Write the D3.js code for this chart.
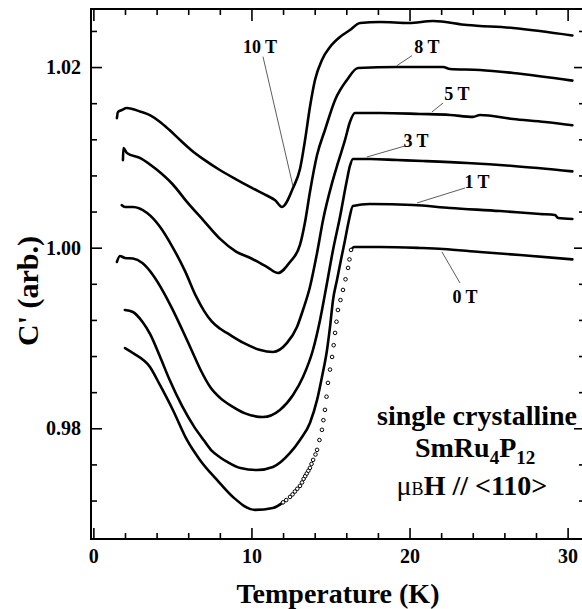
<!DOCTYPE html>
<html>
<head>
<meta charset="utf-8">
<script src="https://cdn.jsdelivr.net/npm/d3@7"></script>
<style>
  body { margin: 0; background: #fff; }
  svg text { font-family: "Liberation Serif", "Times New Roman", serif; font-weight: bold; }
</style>
</head>
<body>
<div id="chart"></div>
<script>
// field series: [temperature K, C' (arb.)]
const field10 = [[1.49,1.01435],[1.55,1.01502],[1.80,1.01525],[2.12,1.01547],[3.0,1.01505],[3.6,1.01465],[4.2,1.01395],[4.8,1.01305],[5.5,1.01190],[6.2,1.01080],[7.0,1.00975],[8.0,1.00860],[9.0,1.00760],[10.0,1.00665],[11.0,1.00575],[11.5,1.00525],[11.93,1.00451],[12.63,1.00661],[13.07,1.00871],[13.39,1.01192],[13.70,1.01558],[14.02,1.01857],[14.46,1.02079],[14.97,1.02222],[15.60,1.02333],[16.23,1.02410],[16.87,1.02488],[18.13,1.02499],[19.97,1.02488],[21.49,1.02510],[23.64,1.02466],[26.55,1.02433],[30.3,1.02350]];
const field8 = [[1.87,1.00970],[1.90,1.01104],[2.12,1.01049],[3.0,1.00990],[4.0,1.00865],[5.0,1.00705],[6.0,1.00490],[7.0,1.00295],[8.0,1.00100],[9.0,0.99960],[10.0,0.99880],[11.0,0.99785],[11.68,0.99720],[12.44,0.99842],[13.07,1.00030],[13.39,1.00284],[13.70,1.00617],[14.15,1.01026],[14.65,1.01303],[15.29,1.01636],[16.04,1.01857],[16.74,1.01990],[19.21,1.02001],[22.12,1.02001],[22.56,1.01979],[24.46,1.01968],[26.55,1.01935],[30.3,1.01850]];
const field5 = [[1.80,1.00471],[2.0,1.00451],[2.5,1.00451],[3.4,1.00384],[4.2,1.00235],[5.0,1.00010],[5.8,0.99740],[6.5,0.99460],[7.0,0.99300],[7.5,0.99180],[8.0,0.99105],[8.5,0.99050],[9.5,0.98945],[10.5,0.98870],[11.36,0.98845],[12.25,0.98945],[12.88,0.99122],[13.26,0.99310],[13.70,0.99565],[14.15,0.99942],[14.53,1.00307],[15.10,1.00717],[15.47,1.00938],[15.92,1.01193],[16.23,1.01392],[16.55,1.01492],[18.13,1.01492],[20.66,1.01481],[22.56,1.01470],[24.02,1.01448],[24.46,1.01470],[26.55,1.01425],[28.58,1.01392],[30.3,1.01355]];
const field3 = [[1.49,0.99842],[1.68,0.99908],[2.0,0.99886],[2.5,0.99880],[3.1,0.99830],[3.8,0.99690],[4.4,0.99520],[5.0,0.99320],[5.6,0.99100],[6.2,0.98870],[6.8,0.98640],[7.4,0.98455],[8.0,0.98340],[8.8,0.98240],[9.6,0.98165],[10.73,0.98125],[11.80,0.98203],[12.63,0.98369],[13.26,0.98568],[13.89,0.98867],[14.34,0.99200],[14.78,0.99609],[15.16,0.99975],[15.60,1.00340],[16.04,1.00750],[16.23,1.00905],[16.42,1.00982],[17.50,1.00982],[19.21,1.00971],[20.85,1.00960],[23.64,1.00938],[26.55,1.00905],[30.3,1.00845]];
const field1 = [[1.99,0.99310],[2.5,0.99288],[3.1,0.99180],[3.6,0.99040],[4.2,0.98800],[4.8,0.98545],[5.6,0.98250],[6.4,0.98010],[7.0,0.97865],[7.5,0.97750],[8.0,0.97680],[8.5,0.97625],[9.3,0.97560],[10.35,0.97538],[11.36,0.97572],[12.44,0.97727],[13.07,0.97871],[13.70,0.98059],[14.15,0.98314],[14.46,0.98569],[14.78,0.98867],[14.97,0.99122],[15.16,0.99421],[15.41,0.99643],[15.66,0.99864],[15.92,1.00085],[16.17,1.00307],[16.42,1.00462],[17.50,1.00484],[20.22,1.00473],[22.56,1.00440],[25.73,1.00406],[28.26,1.00373],[29.2,1.00362],[29.4,1.00329],[30.3,1.00318]];
// zero field: dense part below the transition, sparse open-circle points through it, dense part above
const field0Low = [[2.0,0.98889],[2.5,0.98834],[3.58,0.98679],[4.21,0.98480],[5.03,0.98203],[5.92,0.97871],[6.74,0.97650],[7.82,0.97428],[8.83,0.97239],[10.22,0.97096],[11.36,0.97118],[12.0,0.97180]];
const field0Dots = [[12.0,0.97180],[12.2,0.97205],[12.44,0.97240],[12.6,0.97268],[12.75,0.97300],[12.9,0.97330],[13.07,0.97362],[13.2,0.97400],[13.30,0.97440],[13.40,0.97470],[13.50,0.97500],[13.60,0.97530],[13.70,0.97562],[13.80,0.97605],[13.90,0.97650],[14.05,0.97710],[14.15,0.97761],[14.30,0.97870],[14.46,0.97983],[14.55,0.98090],[14.65,0.98204],[14.75,0.98350],[14.84,0.98503],[14.97,0.98650],[15.10,0.98790],[15.20,0.98920],[15.29,0.99056],[15.38,0.99180],[15.47,0.99310],[15.63,0.99420],[15.79,0.99532],[15.95,0.99650],[16.11,0.99776],[16.20,0.99870],[16.30,0.99975]];
const field0High = [[16.30,0.99975],[16.49,1.00008],[18.13,1.00008],[20.66,0.99997],[22.12,0.99986],[24.46,0.99952],[26.99,0.99919],[30.3,0.99870]];

// labels: text, text anchor point, leader line start and end (data coords)
const fieldLabels = ['10 T', '8 T', '5 T', '3 T', '1 T', '0 T'];
const labelAt = [[10.54,1.02160],[21.10,1.02160],[23.00,1.01636],[20.41,1.01115],[24.27,1.00661],[23.51,0.99386]];
const leaderFrom = [[10.73,1.02115],[20.16,1.02127],[22.12,1.01602],[19.71,1.01126],[23.51,1.00661],[23.19,0.99609]];
const leaderTo = [[12.63,1.00680],[19.20,1.02016],[21.42,1.01503],[17.30,1.01004],[20.47,1.00495],[22.05,0.99953]];

const xMajor = [0, 10, 20, 30];
const yMajor = [0.98, 1.00, 1.02];

const width = 582;
const height = 609;
const plot = { left: 91, top: 9, right: 585, bottom: 539 };

const svg = d3.select('#chart').append('svg')
  .attr('width', width)
  .attr('height', height);

svg.append('rect').attr('width', width).attr('height', height).attr('fill', '#fff');

const x = d3.scaleLinear().domain([-0.15, 31.1]).range([plot.left, plot.right]);
const y = d3.scaleLinear().domain([0.96774, 1.02643]).range([plot.bottom, plot.top]);

const xMinor = d3.range(2, 31, 2).filter(d => d % 10 !== 0);
const yMinor = d3.range(0.972, 1.025, 0.004).filter(d => Math.abs(d * 50 - Math.round(d * 50)) > 1e-6);

// axes, ticks pointing inward
function addAxis(axis, transform, size, values, labels) {
  const g = svg.append('g')
    .attr('transform', transform)
    .call(axis.tickValues(values).tickSize(-size).tickPadding(size > 8 ? 10 : 4)
      .tickFormat(labels ? labels : ''));
  g.select('.domain').remove();
  g.attr('font-family', null).attr('font-size', null);
  g.selectAll('line').attr('stroke', '#000').attr('stroke-width', 1.6);
  g.selectAll('text').attr('fill', '#000')
    .style('font-family', '"Liberation Serif", serif')
    .style('font-weight', 'bold')
    .style('font-size', '20px');
  return g;
}
addAxis(d3.axisBottom(x), `translate(0,${plot.bottom})`, 11, xMajor, d3.format('d'));
addAxis(d3.axisBottom(x), `translate(0,${plot.bottom})`, 6, xMinor, null);
addAxis(d3.axisTop(x), `translate(0,${plot.top})`, 12, xMajor, null);
addAxis(d3.axisTop(x), `translate(0,${plot.top})`, 6, xMinor, null);
addAxis(d3.axisLeft(y), `translate(${plot.left},0)`, 11, yMajor, d3.format('.2f'));
addAxis(d3.axisLeft(y), `translate(${plot.left},0)`, 6, yMinor, null);
addAxis(d3.axisRight(y), `translate(${plot.right},0)`, 11, yMajor, null);
addAxis(d3.axisRight(y), `translate(${plot.right},0)`, 6, yMinor, null);

// frame
svg.append('rect')
  .attr('x', plot.left).attr('y', plot.top)
  .attr('width', plot.right - plot.left).attr('height', plot.bottom - plot.top)
  .attr('fill', 'none').attr('stroke', '#000').attr('stroke-width', 2);

const line = d3.line()
  .x(d => x(d[0]))
  .y(d => y(d[1]))
  .curve(d3.curveMonotoneX);

[field10, field8, field5, field3, field1, field0Low, field0High].forEach(series => {
  svg.append('path')
    .datum(series)
    .attr('d', line)
    .attr('fill', 'none')
    .attr('stroke', '#000')
    .attr('stroke-width', 2.6)
    .attr('stroke-linejoin', 'round')
    .attr('stroke-linecap', 'round');
});

svg.selectAll('circle.dot0')
  .data(field0Dots)
  .enter()
  .append('circle')
  .attr('class', 'dot0')
  .attr('cx', d => x(d[0]))
  .attr('cy', d => y(d[1]))
  .attr('r', 1.8)
  .attr('fill', '#fff')
  .attr('stroke', '#000')
  .attr('stroke-width', 1);

// leader lines and field labels
fieldLabels.forEach((label, i) => {
  svg.append('line')
    .attr('x1', x(leaderFrom[i][0])).attr('y1', y(leaderFrom[i][1]))
    .attr('x2', x(leaderTo[i][0])).attr('y2', y(leaderTo[i][1]))
    .attr('stroke', '#333').attr('stroke-width', 0.8);
  svg.append('text')
    .attr('x', x(labelAt[i][0]))
    .attr('y', y(labelAt[i][1]))
    .attr('text-anchor', 'middle')
    .attr('font-size', 18)
    .text(label);
});

// sample note
const note = svg.append('g').attr('text-anchor', 'middle').attr('font-size', 28);
note.append('text').attr('x', x(24.27)).attr('y', y(0.98037)).text('single crystalline');
const formula = note.append('text').attr('x', x(24.15)).attr('y', y(0.97682));
formula.append('tspan').text('SmRu');
formula.append('tspan').attr('font-size', 19).attr('dy', 7).text('4');
formula.append('tspan').attr('dy', -7).text('P');
formula.append('tspan').attr('font-size', 19).attr('dy', 7).text('12');
const field = note.append('text').attr('x', x(23.95)).attr('y', y(0.97259));
field.append('tspan').style('font-weight', 'normal').text('μ');
field.append('tspan').style('font-weight', 'normal').attr('font-size', 18).text('B');
field.append('tspan').text('H // <110>');

// axis titles
svg.append('text')
  .attr('x', (plot.left + plot.right) / 2)
  .attr('y', 603)
  .attr('text-anchor', 'middle')
  .attr('font-size', 28)
  .text('Temperature (K)');

svg.append('text')
  .attr('transform', `translate(38, ${y(0.9952)}) rotate(-90)`)
  .attr('text-anchor', 'middle')
  .attr('font-size', 30)
  .text("C' (arb.)");
</script>
</body>
</html>
